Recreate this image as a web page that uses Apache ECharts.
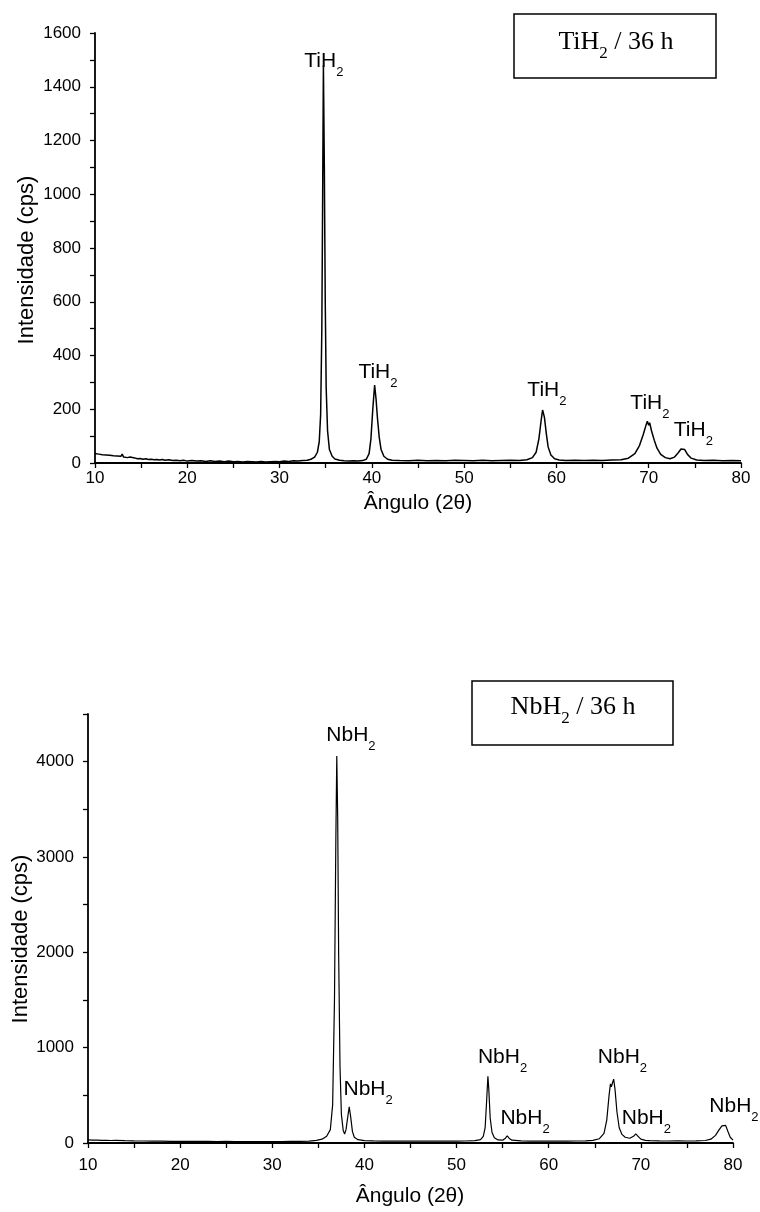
<!DOCTYPE html>
<html>
<head>
<meta charset="utf-8">
<title>DRX - TiH2 e NbH2 (36 h)</title>
<script src="https://cdn.jsdelivr.net/npm/echarts@6.0.0/dist/echarts.min.js"></script>
<style>
  html, body { margin: 0; padding: 0; background: #fff; }
  #chart { width: 760px; height: 1212px; }
</style>
</head>
<body>
<div id="chart"></div>
<script>
// tick labels shown on the axes
const angleTicks = [10, 20, 30, 40, 50, 60, 70, 80];
const tiCpsTicks = [0, 200, 400, 600, 800, 1000, 1200, 1400, 1600];
const nbCpsTicks = [0, 1000, 2000, 3000, 4000];

// TiH2 / 36 h pattern: [2theta, cps]
const tiPattern = [
  [10, 35], [10.2, 30], [10.4, 33], [10.6, 29], [10.8, 31], [11, 28], [11.2, 30], [11.4, 27],
  [11.6, 29], [11.8, 25], [12, 27], [12.2, 24], [12.4, 26], [12.6, 23], [12.8, 25], [12.95, 33],
  [13.1, 22], [13.3, 24], [13.5, 20], [13.8, 22], [14, 18], [14.3, 19], [14.6, 16], [14.9, 17],
  [15.2, 14], [15.5, 16], [15.8, 13], [16.1, 14], [16.4, 12], [16.7, 13], [17, 11], [17.3, 13],
  [17.6, 10], [18, 12], [18.4, 9], [18.8, 10], [19.2, 8], [19.6, 10], [20, 7], [20.5, 9],
  [21, 7], [21.5, 8], [22, 6], [22.5, 8], [23, 6], [23.5, 7], [24, 5], [24.5, 7], [25, 5],
  [25.5, 6], [26, 4], [26.5, 6], [27, 5], [27.5, 4], [28, 6], [28.5, 4], [29, 5], [29.5, 6],
  [30, 5], [30.5, 7], [31, 6], [31.5, 8], [32, 7], [32.5, 9], [33, 10], [33.4, 14], [33.8, 22],
  [34.1, 40], [34.3, 80], [34.45, 180], [34.58, 500], [34.67, 1000], [34.75, 1480], [34.85, 1100],
  [34.95, 600], [35.05, 280], [35.2, 120], [35.4, 50], [35.7, 25], [36, 15], [36.5, 10], [37, 8],
  [37.5, 7], [38, 8], [38.5, 7], [39, 9], [39.4, 14], [39.7, 35], [39.9, 90], [40.1, 200],
  [40.3, 290], [40.45, 240], [40.6, 170], [40.8, 95], [41, 50], [41.3, 25], [41.7, 14], [42.2, 10],
  [43, 9], [44, 8], [45, 10], [46, 8], [47, 9], [48, 8], [49, 10], [50, 9], [51, 8], [52, 10],
  [53, 8], [54, 9], [55, 10], [56, 9], [56.8, 12], [57.4, 20], [57.8, 40], [58.1, 90], [58.35, 160],
  [58.5, 197], [58.7, 170], [58.9, 110], [59.1, 60], [59.4, 30], [59.8, 16], [60.3, 11], [61, 9],
  [62, 10], [63, 9], [64, 10], [65, 9], [66, 11], [67, 12], [67.8, 18], [68.5, 35], [69, 65],
  [69.4, 105], [69.7, 140], [69.85, 155], [70, 140], [70.1, 150], [70.3, 120], [70.6, 85],
  [70.9, 55], [71.3, 32], [71.8, 20], [72.3, 16], [72.8, 22], [73.2, 38], [73.5, 52], [73.7, 58],
  [73.9, 50], [74.2, 32], [74.6, 18], [75.2, 11], [76, 9], [77, 10], [78, 8], [79, 9], [80, 8]
];

// NbH2 / 36 h pattern: [2theta, cps]
const nbPattern = [
  [10, 32], [10.5, 30], [11, 31], [11.5, 28], [12, 29], [12.5, 26], [13, 27], [14, 24], [15, 22],
  [16, 21], [17, 20], [18, 19], [19, 18], [20, 18], [21, 17], [22, 16], [23, 17], [24, 15],
  [25, 16], [26, 15], [27, 14], [28, 15], [29, 14], [30, 15], [31, 14], [32, 16], [33, 17],
  [34, 20], [34.8, 28], [35.4, 40], [35.9, 70], [36.3, 140], [36.55, 400], [36.75, 1500],
  [36.9, 3200], [37, 4060], [37.1, 3400], [37.2, 2000], [37.35, 800], [37.5, 300], [37.7, 130],
  [37.85, 95], [38, 140], [38.2, 280], [38.35, 380], [38.5, 280], [38.7, 120], [38.9, 60],
  [39.3, 35], [40, 25], [41, 22], [42, 20], [43, 21], [44, 20], [45, 19], [46, 20], [47, 19],
  [48, 20], [49, 19], [50, 20], [51, 21], [52, 24], [52.6, 35], [52.9, 70], [53.1, 160],
  [53.25, 420], [53.4, 700], [53.5, 560], [53.65, 260], [53.85, 110], [54.1, 55], [54.5, 32],
  [55, 30], [55.3, 50], [55.5, 75], [55.7, 50], [56, 30], [57, 22], [58, 20], [59, 21], [60, 20],
  [61, 19], [62, 20], [63, 21], [64, 22], [64.8, 28], [65.5, 45], [66, 100], [66.3, 240],
  [66.55, 500], [66.7, 620], [66.8, 590], [66.95, 640], [67.05, 670], [67.2, 560], [67.4, 330],
  [67.65, 160], [67.95, 90], [68.3, 60], [68.8, 50], [69.2, 70], [69.45, 95], [69.7, 70], [70, 40],
  [70.5, 28], [71, 24], [72, 22], [73, 21], [74, 22], [75, 21], [76, 22], [77, 26], [77.6, 40],
  [78.1, 80], [78.5, 140], [78.8, 180], [79, 200], [79.2, 185], [79.45, 120], [79.7, 60], [80, 30]
];

// where the phase labels sit: [2theta, cps]
const tiPeakLabels = [[34.8, 1481], [40.66, 324], [58.97, 257], [70.13, 208], [74.84, 108]];
const nbPeakLabels = [[38.54, 4242], [40.4, 530], [54.99, 859], [57.43, 219], [68.0, 859], [70.6, 219], [80.1, 346]];

const sans = 'Arial, "Liberation Sans", sans-serif';
const serif = '"Times New Roman", "Liberation Serif", serif';

const chart = echarts.init(document.getElementById('chart'), null, { renderer: 'canvas' });

// x axis (2 theta), one per grid
const angleAxis = (gridIndex, labelMargin) => ({
  type: 'value',
  gridIndex,
  min: 10,
  max: 80,
  interval: 5,
  axisLine: { lineStyle: { color: '#000', width: 1.8 } },
  axisTick: { length: 5, lineStyle: { color: '#000', width: 1.3 } },
  axisLabel: {
    margin: labelMargin,
    color: '#000',
    fontSize: 17,
    fontFamily: sans,
    formatter: (v) => (angleTicks.includes(v) ? String(v) : '')
  },
  splitLine: { show: false }
});

// y axis (intensity)
const cpsAxis = (gridIndex, max, interval, ticks) => ({
  type: 'value',
  gridIndex,
  min: 0,
  max,
  interval,
  axisLine: { show: true, lineStyle: { color: '#000', width: 1.8 } },
  axisTick: { show: true, length: 5, lineStyle: { color: '#000', width: 1.3 } },
  axisLabel: {
    margin: 14,
    color: '#000',
    fontSize: 17,
    fontFamily: sans,
    formatter: (v) => (ticks.includes(v) ? String(v) : '')
  },
  splitLine: { show: false }
});

// phase label as rich text with subscript
const phaseRich = {
  m: { fontSize: 21, fontFamily: sans, color: '#000', lineHeight: 28, verticalAlign: 'top' },
  s: { fontSize: 13, fontFamily: sans, color: '#000', lineHeight: 28, verticalAlign: 'bottom' }
};
const labelSeries = (idx, points, name) => ({
  type: 'scatter',
  xAxisIndex: idx,
  yAxisIndex: idx,
  data: points,
  symbolSize: 0,
  clip: false,
  silent: true,
  itemStyle: { opacity: 1, color: '#000' },
  label: {
    show: true,
    position: 'inside',
    color: '#000',
    opacity: 1,
    textBorderWidth: 0,
    formatter: `{m|${name}}{s|2}`,
    rich: phaseRich
  }
});

const boxRich = {
  m: { fontSize: 26, fontFamily: serif, fill: '#000', lineHeight: 33, verticalAlign: 'top' },
  s: { fontSize: 17, fontFamily: serif, fill: '#000', lineHeight: 33, verticalAlign: 'bottom' }
};

const option = {
  animation: false,
  backgroundColor: '#fff',
  grid: [
    { left: 95, top: 33, width: 646, height: 430 },
    { left: 88, top: 714, width: 645, height: 429 }
  ],
  xAxis: [angleAxis(0, 7), angleAxis(1, 14)],
  yAxis: [cpsAxis(0, 1600, 100, tiCpsTicks), cpsAxis(1, 4500, 500, nbCpsTicks)],
  series: [
    {
      type: 'line',
      xAxisIndex: 0,
      yAxisIndex: 0,
      data: tiPattern,
      showSymbol: false,
      lineStyle: { color: '#000', width: 1.5 }
    },
    {
      type: 'line',
      xAxisIndex: 1,
      yAxisIndex: 1,
      data: nbPattern,
      showSymbol: false,
      lineStyle: { color: '#000', width: 1.2 }
    },
    labelSeries(0, tiPeakLabels, 'TiH'),
    labelSeries(1, nbPeakLabels, 'NbH')
  ],
  graphic: [
    // sample boxes
    { type: 'rect', shape: { x: 514, y: 14, width: 202, height: 64 }, style: { fill: '#fff', stroke: '#000', lineWidth: 1.5 } },
    { type: 'text', x: 616, y: 46, style: { text: '{m|TiH}{s|2}{m| / 36 h}', rich: boxRich, align: 'center', verticalAlign: 'middle' } },
    { type: 'rect', shape: { x: 472, y: 681, width: 201, height: 64 }, style: { fill: '#fff', stroke: '#000', lineWidth: 1.5 } },
    { type: 'text', x: 573, y: 711, style: { text: '{m|NbH}{s|2}{m| / 36 h}', rich: boxRich, align: 'center', verticalAlign: 'middle' } },
    // axis titles
    { type: 'text', x: 27, y: 260, rotation: Math.PI / 2, style: { text: 'Intensidade (cps)', font: `22px ${sans}`, fill: '#000', align: 'center', verticalAlign: 'middle' } },
    { type: 'text', x: 418, y: 503, style: { text: 'Ângulo (2θ)', font: `21px ${sans}`, fill: '#000', align: 'center', verticalAlign: 'middle' } },
    { type: 'text', x: 21, y: 939, rotation: Math.PI / 2, style: { text: 'Intensidade (cps)', font: `22px ${sans}`, fill: '#000', align: 'center', verticalAlign: 'middle' } },
    { type: 'text', x: 410, y: 1196, style: { text: 'Ângulo (2θ)', font: `21px ${sans}`, fill: '#000', align: 'center', verticalAlign: 'middle' } }
  ]
};

chart.setOption(option);
</script>
</body>
</html>
